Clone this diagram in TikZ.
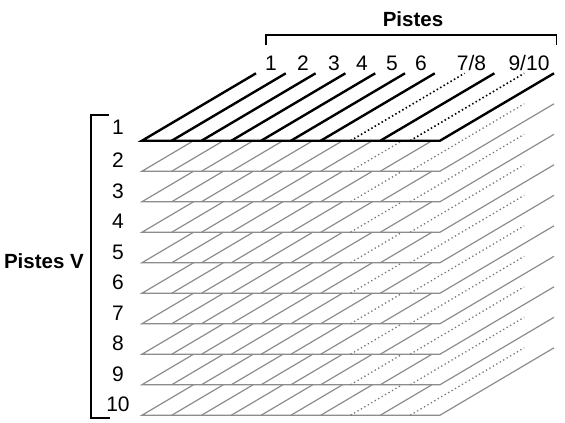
\documentclass[tikz,border=0pt]{standalone}
\usepackage{fontspec}
\setmainfont{Liberation Sans}
\definecolor{gl}{gray}{0.55}
\begin{document}
\begin{tikzpicture}[x=1pt,y=-1pt,
  lbl/.style={font=\fontsize{21}{24}\selectfont, anchor=base, inner sep=0pt},
  hd/.style={font=\fontsize{20.5}{24}\selectfont\bfseries, anchor=base, inner sep=0pt},
  topsolid/.style={line width=2.4pt, line join=miter, black},
  topdot/.style={line width=1.6pt, dash pattern=on 1.5pt off 2.5pt, black},
  gsolid/.style={line width=1.2pt, gl, line join=miter},
  gdot/.style={line width=1.3pt, gl!85!black, dash pattern=on 1.3pt off 2.7pt},
  brk/.style={line width=1.3pt, black, line join=miter}]
\useasboundingbox (0,0) rectangle (565,423);

% lower (grey) layers, visible parts only
\foreach \j in {1,...,9} {
  \pgfmathsetmacro\yy{140.7+30.5*\j}
  \draw[gsolid] (142+51.6,\yy-30.5) -- (142,\yy) -- (440,\yy) -- ++(114,-67.4);
  \foreach \k in {1,...,6,8}
    \draw[gsolid] (142+29.8*\k,\yy) -- ++(51.6,-30.5);
  \draw[gdot] (142+29.8*7,\yy) -- ++(51.6,-30.5);
  \draw[gdot] (142+29.8*9,\yy) -- ++(114,-67.4);
}

% top (black) layer
\draw[topsolid] (256,73.3) -- (142,140.7) -- (440,140.7) -- (554,73.3);
\foreach \k in {1,...,6,8}
  \draw[topsolid] (142+29.8*\k,140.7) -- ++(114,-67.4);
\foreach \k in {7,9}
  \draw[topdot] (142+29.8*\k,140.7) -- ++(114,-67.4);

% top labels
\node[lbl] (t1) at (271,70) {1};
\node[lbl] (t2) at (303,70) {2};
\node[lbl] (t3) at (334,70) {3};
\node[lbl] (t4) at (362,70) {4};
\node[lbl] (t5) at (392,70) {5};
\node[lbl] (t6) at (421,70) {6};
\node[lbl] (t78) at (471.5,70) {7/8};
\node[lbl] (t910) at (529,70) {9/10};

% top bracket
\coordinate (bl) at (266,45);
\coordinate (br) at (556.5,45);
\draw[brk] (bl) -- (266,35) -- (556.5,35) -- (br);
\node[hd] (pistes) at (413,26.7) {Pistes};

% left bracket
\coordinate (lt) at (109,115);
\coordinate (lb) at (110,418);
\draw[brk] (lt) -- (91,115) -- (91,418) -- (lb);
\node[hd, anchor=base east] (pistesv) at (84,268) {Pistes V};

% left labels
\node[lbl] (v1) at (118,134) {1};
\foreach \n in {2,...,10} {
  \pgfmathsetmacro\yb{140.7+30.5*(\n-1)-3.5}
  \node[lbl] (v\n) at (118,\yb) {\n};
}
\end{tikzpicture}
\end{document}
